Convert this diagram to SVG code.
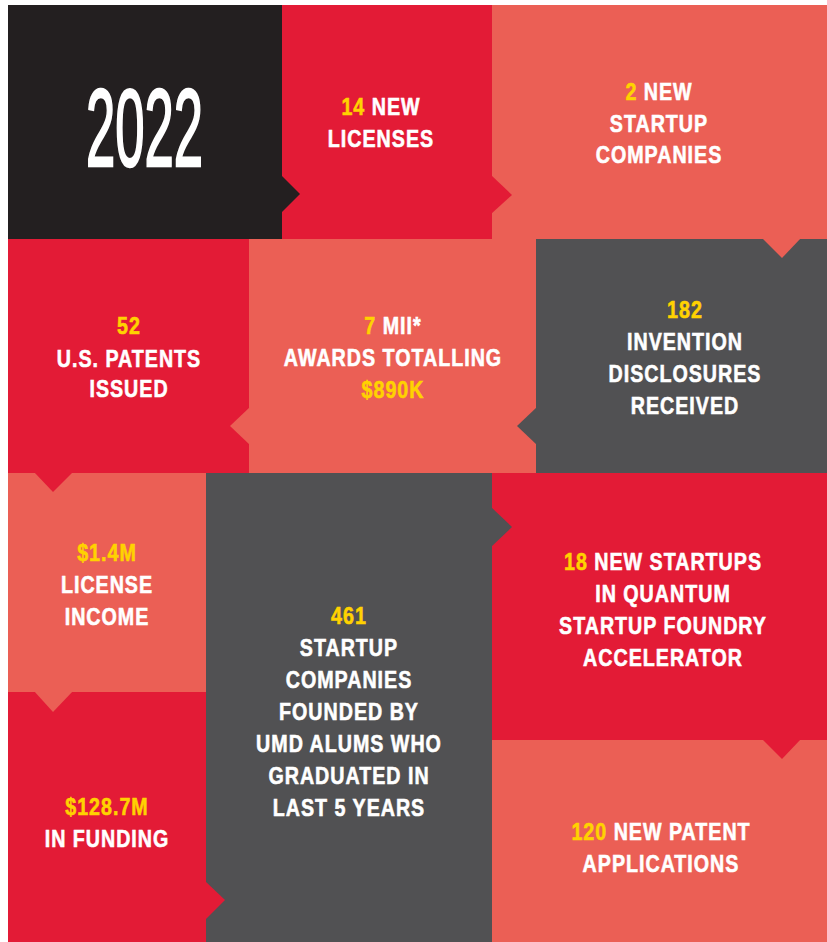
<svg xmlns="http://www.w3.org/2000/svg" width="827" height="942" viewBox="0 0 827 942">
<style>
.dark{fill:#231f20}
.red{fill:#e31b36}
.sal{fill:#eb5f55}
.gray{fill:#515153}
text{font-family:"Liberation Sans","Arial",sans-serif;font-weight:bold;font-size:24px;fill:#ffffff;stroke:#ffffff;stroke-width:0.6px;text-anchor:middle;letter-spacing:1.2px}
.y{fill:#ffd200;stroke:#ffd200}
.year{font-weight:normal;font-size:110px;letter-spacing:0;stroke-width:2.5px}
</style>
<rect x="0" y="0" width="827" height="942" fill="#ffffff"/>
<g id="node-2022">
<rect class="dark" x="8" y="5" width="274" height="234"/>
<text class="year" x="86" y="166" style="text-anchor:start" textLength="117" lengthAdjust="spacingAndGlyphs">2022</text>
</g>
<g id="node-licenses">
<rect class="red" x="282" y="5" width="210" height="234"/>
<g transform="translate(381,0) scale(0.82,1)">
<text x="0" y="115"><tspan class="y">14</tspan> NEW</text>
<text x="0" y="147">LICENSES</text>
</g>
</g>
<g id="node-startups">
<rect class="sal" x="492" y="5" width="335" height="234"/>
<g transform="translate(659,0) scale(0.82,1)">
<text x="0" y="100"><tspan class="y">2</tspan> NEW</text>
<text x="0" y="132">STARTUP</text>
<text x="0" y="163">COMPANIES</text>
</g>
</g>
<g id="node-patents">
<rect class="red" x="8" y="239" width="241" height="234"/>
<g transform="translate(129,0) scale(0.82,1)">
<text x="0" y="334" class="y">52</text>
<text x="0" y="367">U.S. PATENTS</text>
<text x="0" y="397">ISSUED</text>
</g>
</g>
<g id="node-mii">
<rect class="sal" x="249" y="239" width="287" height="234"/>
<g transform="translate(393,0) scale(0.82,1)">
<text x="0" y="334"><tspan class="y">7</tspan> MII*</text>
<text x="0" y="366">AWARDS TOTALLING</text>
<text x="0" y="398" class="y">$890K</text>
</g>
</g>
<g id="node-disclosures">
<rect class="gray" x="536" y="239" width="291" height="234"/>
<g transform="translate(685,0) scale(0.82,1)">
<text x="0" y="318" class="y">182</text>
<text x="0" y="350">INVENTION</text>
<text x="0" y="382">DISCLOSURES</text>
<text x="0" y="414">RECEIVED</text>
</g>
</g>
<g id="node-income">
<rect class="sal" x="8" y="473" width="198" height="219"/>
<g transform="translate(107,0) scale(0.82,1)">
<text x="0" y="561" class="y">$1.4M</text>
<text x="0" y="593">LICENSE</text>
<text x="0" y="625">INCOME</text>
</g>
</g>
<g id="node-funding">
<rect class="red" x="8" y="692" width="198" height="250"/>
<g transform="translate(107,0) scale(0.82,1)">
<text x="0" y="815" class="y">$128.7M</text>
<text x="0" y="847">IN FUNDING</text>
</g>
</g>
<g id="node-alums">
<rect class="gray" x="206" y="473" width="286" height="469"/>
<g transform="translate(349,0) scale(0.82,1)">
<text x="0" y="624" class="y">461</text>
<text x="0" y="656">STARTUP</text>
<text x="0" y="688">COMPANIES</text>
<text x="0" y="720">FOUNDED BY</text>
<text x="0" y="752">UMD ALUMS WHO</text>
<text x="0" y="784">GRADUATED IN</text>
<text x="0" y="816">LAST 5 YEARS</text>
</g>
</g>
<g id="node-quantum">
<rect class="red" x="492" y="473" width="335" height="267"/>
<g transform="translate(663,0) scale(0.82,1)">
<text x="0" y="570"><tspan class="y">18</tspan> NEW STARTUPS</text>
<text x="0" y="602">IN QUANTUM</text>
<text x="0" y="634">STARTUP FOUNDRY</text>
<text x="0" y="666">ACCELERATOR</text>
</g>
</g>
<g id="node-applications">
<rect class="sal" x="492" y="740" width="335" height="202"/>
<g transform="translate(661,0) scale(0.82,1)">
<text x="0" y="840"><tspan class="y">120</tspan> NEW PATENT</text>
<text x="0" y="872">APPLICATIONS</text>
</g>
</g>
<g id="connectors">
<polygon class="dark" points="281,175 300,194 281,213"/>
<polygon class="red" points="491,175 512,195 491,214"/>
<polygon class="sal" points="762,238 782,258 801,238"/>
<polygon class="gray" points="537,407 517,426 537,445"/>
<polygon class="sal" points="250,407 230,426 250,445"/>
<polygon class="red" points="34,472 53,492 73,472"/>
<polygon class="sal" points="34,691 53,712 73,691"/>
<polygon class="red" points="205,881 225,900 205,920"/>
<polygon class="gray" points="491,507 512,527 491,547"/>
<polygon class="red" points="762,739 782,759 801,739"/>
</g>
</svg>
